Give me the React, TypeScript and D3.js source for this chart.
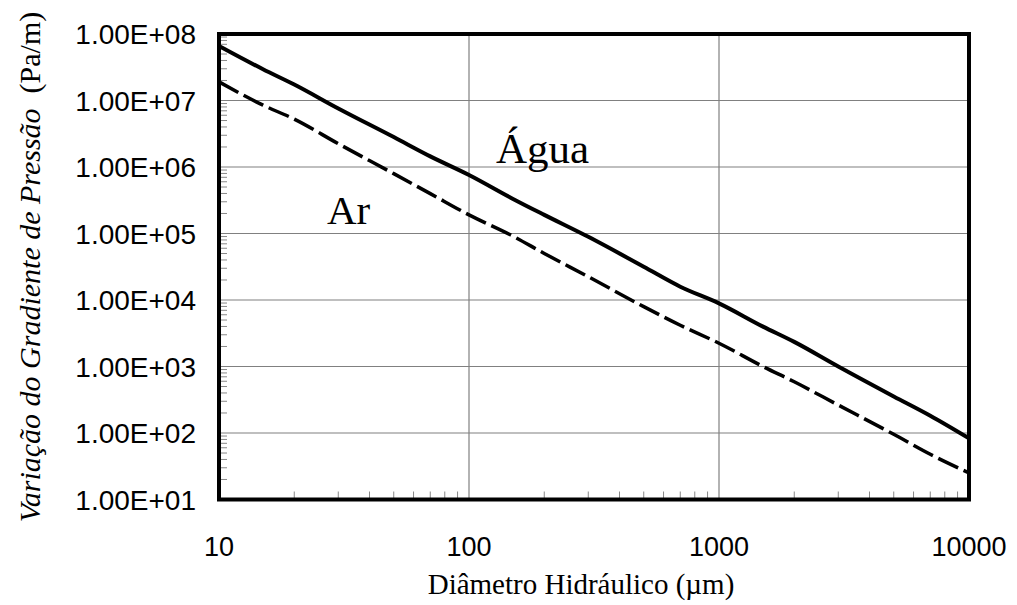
import React from "react";
import * as d3 from "d3";

const diameters = [10, 15, 20, 30, 50, 70, 100, 150, 200, 300, 500, 700, 1000, 1500, 2000, 3000, 5000, 7000, 10000];
const aguaLog = [7.82, 7.47, 7.24, 6.88, 6.45, 6.16, 5.88, 5.52, 5.28, 4.95, 4.5, 4.2, 3.95, 3.6, 3.37, 3.0, 2.55, 2.26, 1.92];
const arLog = [7.28, 6.93, 6.72, 6.35, 5.9, 5.6, 5.28, 4.96, 4.7, 4.35, 3.9, 3.62, 3.35, 3.0, 2.77, 2.42, 1.98, 1.68, 1.4];
const xTicks = [10, 100, 1000, 10000];
const yTicks = [1e1, 1e2, 1e3, 1e4, 1e5, 1e6, 1e7, 1e8];
const yTickLabels = ["1.00E+01", "1.00E+02", "1.00E+03", "1.00E+04", "1.00E+05", "1.00E+06", "1.00E+07", "1.00E+08"];

const L = 219, R = 969, T = 34, B = 499.5;
const SANS = "'Liberation Sans', Arial, sans-serif";
const SERIF = "'Liberation Serif', 'Times New Roman', serif";

export default function App() {
  const x = d3.scaleLog().domain([10, 10000]).range([L, R]);
  const y = d3.scaleLog().domain([10, 1e8]).range([B, T]);
  const agua = diameters.map((d, i) => [d, Math.pow(10, aguaLog[i])] as [number, number]);
  const ar = diameters.map((d, i) => [d, Math.pow(10, arLog[i])] as [number, number]);
  const line = d3.line<[number, number]>().x(d => x(d[0])).y(d => y(d[1])).curve(d3.curveMonotoneX);

  const xMinor: number[] = [];
  for (let e = 1; e < 4; e++) for (let k = 2; k <= 9; k++) xMinor.push(k * Math.pow(10, e));
  const yMinor: number[] = [];
  for (let e = 1; e < 8; e++) for (let k = 2; k <= 9; k++) yMinor.push(k * Math.pow(10, e));

  return (
    <svg width={1017} height={605} style={{ position: "absolute", left: 0, top: 0, background: "#fff" }}>
      <rect x={0} y={0} width={1017} height={605} fill="#fff" />
      {yTicks.map(v => (
        <line key={"gy" + v} x1={L} x2={R} y1={y(v)} y2={y(v)} stroke="#808080" strokeWidth={1.2} />
      ))}
      {xTicks.map(v => (
        <line key={"gx" + v} x1={x(v)} x2={x(v)} y1={T} y2={B} stroke="#808080" strokeWidth={1.2} />
      ))}
      {yMinor.map(v => (
        <line key={"my" + v} x1={L} x2={L + 8} y1={y(v)} y2={y(v)} stroke="#888" strokeWidth={1} />
      ))}
      {xMinor.map(v => (
        <line key={"mx" + v} x1={x(v)} x2={x(v)} y1={B} y2={B - 8} stroke="#888" strokeWidth={1} />
      ))}
      <path d={line(agua) || ""} fill="none" stroke="#000" strokeWidth={4} strokeLinejoin="round" />
      <path d={line(ar) || ""} fill="none" stroke="#000" strokeWidth={3.5} strokeDasharray="22,6" strokeLinejoin="round" />
      <rect x={L} y={T} width={R - L} height={B - T} fill="none" stroke="#000" strokeWidth={4} />
      {yTicks.map((v, i) => (
        <text key={"ty" + v} x={196} y={y(v)} dy="0.36em" textAnchor="end" fontFamily={SANS} fontSize={28} fill="#000">
          {yTickLabels[i]}
        </text>
      ))}
      {xTicks.map(v => (
        <text key={"tx" + v} x={x(v)} y={556} textAnchor="middle" fontFamily={SANS} fontSize={27} fill="#000">
          {String(v)}
        </text>
      ))}
      <text x={581} y={594} textAnchor="middle" fontFamily={SERIF} fontSize={29} fill="#000">
        Diâmetro Hidráulico (µm)
      </text>
      <text transform={`translate(40, 267) rotate(-90)`} textAnchor="middle" fontFamily={SERIF} fontSize={30} fill="#000">
        <tspan fontStyle="italic">Variação do Gradiente de Pressão</tspan>
        <tspan>{"\u00a0\u00a0(Pa/m)"}</tspan>
      </text>
      <text x={496} y={163} fontFamily={SERIF} fontSize={43} fill="#000">Água</text>
      <text x={327} y={224} fontFamily={SERIF} fontSize={41} fill="#000">Ar</text>
    </svg>
  );
}
